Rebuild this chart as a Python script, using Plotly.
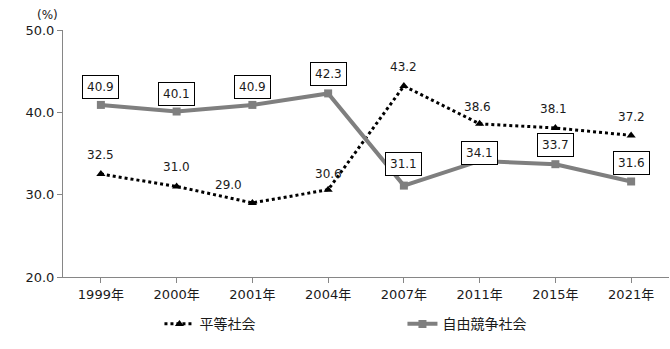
import plotly.graph_objects as go

years = ["1999年", "2000年", "2001年", "2004年", "2007年", "2011年", "2015年", "2021年"]
equal = [32.5, 31.0, 29.0, 30.6, 43.2, 38.6, 38.1, 37.2]
free = [40.9, 40.1, 40.9, 42.3, 31.1, 34.1, 33.7, 31.6]
yticks = [20, 30, 40, 50]

# label offsets (px) for annotations
equal_dx = [0, 0, -24, 0, 0, -2, -2, 0]
equal_dy = [19, 19, 18, 16, 19, 17, 19, 18]
free_dy = [18, 18, 18, 19, 22, 8, 19, 18]

FONT = "DejaVu Sans, Noto Sans CJK JP"
x = list(range(len(years)))

fig = go.Figure()
fig.add_trace(go.Scatter(
    x=x, y=equal, name="平等社会", mode="lines+markers",
    line=dict(color="black", width=3, dash="dot"),
    marker=dict(symbol="triangle-up", size=8, color="black"),
))
fig.add_trace(go.Scatter(
    x=x, y=free, name="自由競争社会", mode="lines+markers",
    line=dict(color="#7f7f7f", width=4),
    marker=dict(symbol="square", size=8, color="#7f7f7f"),
))

for i, v in enumerate(equal):
    fig.add_annotation(x=x[i], y=v, text=f"{v:.1f}", showarrow=False,
                       xshift=equal_dx[i], yshift=equal_dy[i],
                       font=dict(family=FONT, size=12, color="#1a1a1a"))
for i, v in enumerate(free):
    fig.add_annotation(x=x[i], y=v, text=f"{v:.1f}", showarrow=False,
                       yshift=free_dy[i], bgcolor="white", bordercolor="black",
                       borderwidth=1, borderpad=4,
                       font=dict(family=FONT, size=12, color="#1a1a1a"))

fig.add_annotation(xref="paper", yref="paper", x=0, y=1.0, xshift=-3, yshift=6,
                   xanchor="right", yanchor="bottom",
                   text="(%)", showarrow=False,
                   font=dict(family=FONT, size=12, color="#1a1a1a"))

fig.update_xaxes(
    tickvals=x, ticktext=years, range=[-0.5, 7.5],
    showline=True, linecolor="#868686", linewidth=1,
    ticks="outside", tickson="boundaries", ticklen=5, tickcolor="#868686",
    showgrid=False, zeroline=False,
    tickfont=dict(family=FONT, size=13, color="#1a1a1a"),
)
fig.update_yaxes(
    range=[20, 50], tickvals=yticks, ticktext=[f"{t:.1f}" for t in yticks],
    showline=True, linecolor="#868686", linewidth=1,
    ticks="outside", ticklen=5, tickcolor="#868686",
    showgrid=False, zeroline=False,
    tickfont=dict(family=FONT, size=13, color="#1a1a1a"),
)

fig.update_layout(
    width=670, height=349,
    margin=dict(l=63, r=1, t=30, b=72),
    paper_bgcolor="white", plot_bgcolor="white",
    showlegend=True,
    legend=dict(orientation="h", xref="container", yref="container",
                x=0.238, y=0.025, xanchor="left", yanchor="bottom",
                entrywidth=198, font=dict(family=FONT, size=14, color="#1a1a1a")),
)

fig.write_html("out.html")
